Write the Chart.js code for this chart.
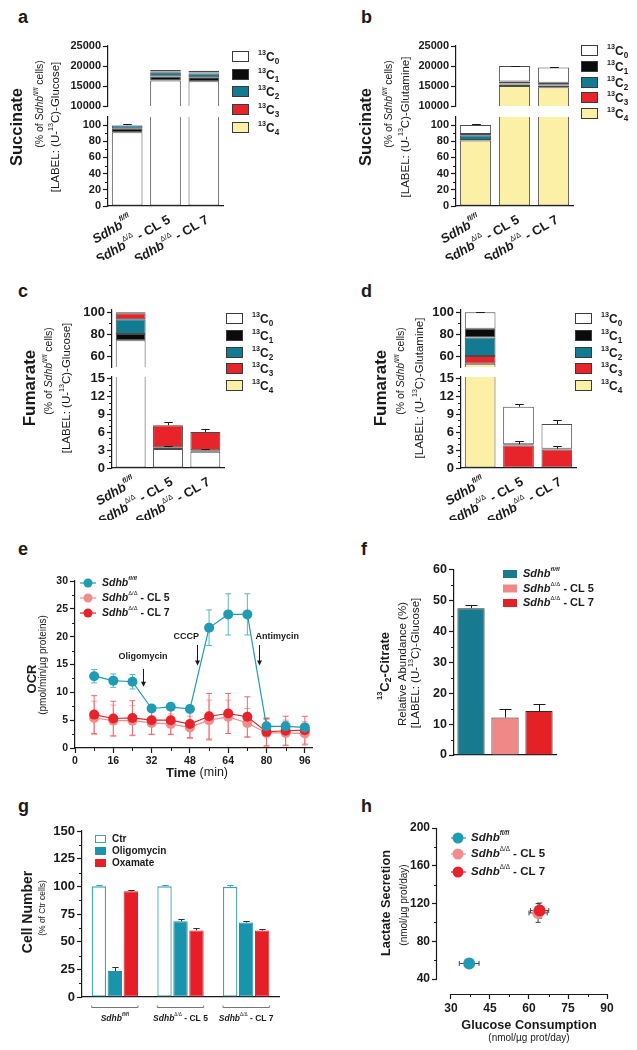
<!DOCTYPE html>
<html>
<head>
<meta charset="utf-8">
<title>Sdhb loss rewires metabolism</title>
<script src="https://cdn.jsdelivr.net/npm/chart.js@4.4.1/dist/chart.umd.min.js"></script>
<style>
  body { margin: 0; background: #fff; }
  #fig { position: relative; width: 637px; height: 1050px; overflow: hidden; font-family: "Liberation Sans", Arial, sans-serif; }
  #fig canvas { position: absolute; }
  .tag { position: absolute; font-weight: bold; font-size: 18px; line-height: 18px; color: #1a1a1a; }
</style>
</head>
<body>
<div id="fig">
  <div class="tag" style="left:18px;top:8px">a</div>
  <div class="tag" style="left:361px;top:8px">b</div>
  <div class="tag" style="left:18px;top:282px">c</div>
  <div class="tag" style="left:361px;top:282px">d</div>
  <div class="tag" style="left:18px;top:540px">e</div>
  <div class="tag" style="left:361px;top:540px">f</div>
  <div class="tag" style="left:18px;top:797px">g</div>
  <div class="tag" style="left:361px;top:797px">h</div>
  <canvas id="chartA" width="318" height="230" style="left:0;top:30px"></canvas>
  <canvas id="chartB" width="319" height="230" style="left:318px;top:30px"></canvas>
  <canvas id="chartC" width="318" height="220" style="left:0;top:300px"></canvas>
  <canvas id="chartD" width="319" height="220" style="left:318px;top:300px"></canvas>
  <canvas id="chartE" width="318" height="225" style="left:0;top:560px"></canvas>
  <canvas id="chartF" width="319" height="215" style="left:318px;top:560px"></canvas>
  <canvas id="chartG" width="318" height="235" style="left:0;top:815px"></canvas>
  <canvas id="chartH" width="319" height="235" style="left:318px;top:815px"></canvas>
</div>
<script>
// ---- data ----
// genotype = [gene, allele (superscript), clone]
const genotypes = [['Sdhb', 'fl/fl', ''], ['Sdhb', 'Δ/Δ', ' - CL 5'], ['Sdhb', 'Δ/Δ', ' - CL 7']];
const genotypeNames = genotypes.map(g => g.join(''));
const isotopologues = ['13C0', '13C1', '13C2', '13C3', '13C4'];

// a: succinate, (U-13C)-glucose (% of Sdhb fl/fl)
const succGlcC0 = [91, 16400, 16200];
const succGlcC1 = [4.5, 1000, 1000];
const succGlcC2 = [4, 900, 900];
const succGlcC3 = [0.3, 300, 300];
const succGlcC4 = [0.2, 400, 400];
const succGlcErr = [0.8, 0, 0];

// b: succinate, (U-13C)-glutamine
const succGlnC0 = [11, 3900, 3800];
const succGlnC1 = [1.5, 500, 500];
const succGlnC2 = [6, 200, 150];
const succGlnC3 = [0.5, 400, 450];
const succGlnC4 = [81, 15000, 14700];
const succGlnErr = [1.2, 60, 60];

// c: fumarate, (U-13C)-glucose
const fumGlcC0 = [74.5, 3.2, 2.75];
const fumGlcC1 = [5.5, 0.3, 0.25];
const fumGlcC2 = [13.5, 0, 0];
const fumGlcC3 = [5.5, 3.7, 3.05];
const fumGlcC4 = [1, 0, 0];
const fumGlcErrC1 = [0, 0.15, 0.15];
const fumGlcErrC3 = [0, 0.55, 0.45];

// d: fumarate, (U-13C)-glutamine
const fumGlnC0 = [15, 6.3, 4.15];
const fumGlnC1 = [8, 0.2, 0.15];
const fumGlnC2 = [17, 0, 0];
const fumGlnC3 = [7, 3.8, 3.1];
const fumGlnC4 = [53, 0, 0];
const fumGlnErrC1 = [0, 0.5, 0.4];
const fumGlnErrC0 = [0.4, 0.4, 0.75];

const succTopTicks = [10000, 15000, 20000, 25000];
const succBotTicks = [0, 20, 40, 60, 80, 100];
const fumTopTicks = [60, 80, 100];
const fumBotTicks = [0, 3, 6, 9, 12, 15];

// e: OCR (pmol/min/ug proteins)
const ocrTime = [8, 16, 24, 32, 40, 48, 56, 64, 72, 80, 88, 96];
const ocrWT = [12.9, 12.1, 11.9, 7.1, 7.4, 7.0, 21.6, 24.0, 24.0, 3.9, 3.9, 3.7];
const ocrWTErr = [1.2, 1.2, 1.3, 0.4, 0.4, 0.4, 3.2, 3.7, 3.7, 1.4, 0.8, 0.6];
const ocrCL5 = [5.4, 4.9, 4.9, 4.5, 4.3, 3.7, 5.0, 5.6, 4.5, 2.7, 2.7, 2.6];
const ocrCL5Err = [3.0, 2.8, 2.7, 2.0, 1.8, 2.0, 3.6, 3.0, 2.6, 2.4, 2.3, 2.1];
const ocrCL7 = [6.0, 5.3, 5.4, 5.0, 5.0, 4.3, 5.7, 6.2, 5.6, 2.9, 3.1, 3.2];
const ocrCL7Err = [3.4, 3.1, 3.1, 2.6, 2.6, 2.4, 4.1, 3.6, 3.6, 2.5, 2.6, 2.5];
const ocrTimeTicks = [0, 16, 32, 48, 64, 80, 96];
const ocrTicks = [0, 5, 10, 15, 20, 25, 30];
const ocrEvents = ['Oligomycin', 'CCCP', 'Antimycin'];

// f: 13C2-citrate relative abundance (%)
const citrateM2 = [47.5, 12.1, 14.2];
const citrateErr = [0.9, 2.8, 2.4];
const citrateTicks = [0, 10, 20, 30, 40, 50, 60];

// g: cell number (% of Ctr cells)
const treatments = ['Ctr', 'Oligomycin', 'Oxamate'];
const cellCtr = [100, 100, 99.5];
const cellCtrErr = [1, 1.2, 1.3];
const cellOligo = [23.5, 68.5, 67.3];
const cellOligoErr = [3.8, 2.2, 1.6];
const cellOxa = [95.5, 60.2, 60.0];
const cellOxaErr = [1.5, 2.2, 1.6];
const cellTicks = [0, 25, 50, 75, 100, 125, 150];

// h: glucose consumption vs lactate secretion (nmol/ug prot/day)
const glucoseUse = [37, 63.5, 64.1];
const glucoseUseErr = [3.8, 3.5, 3.5];
const lactateOut = [56.5, 110, 112.5];
const lactateOutErr = [1.5, 10, 8];
const glucoseTicks = [30, 45, 60, 75, 90];
const lactateTicks = [40, 80, 120, 160, 200];

// ---- style ----
const INK = '#1a1a1a';
const FAM = '"Liberation Sans", Arial, Helvetica, sans-serif';
const isoColors = ['#ffffff', '#0b0b0b', '#137b91', '#e8242b', '#fbf0a6'];
const TEAL = '#1f9bb3', PINK = '#f08c8c', RED = '#e6232b';
Chart.defaults.font.family = FAM;
Chart.defaults.color = INK;

const font = (size, style) => (style ? style + ' ' : '') + size + 'px ' + FAM;
const tickSet = list => s => { s.ticks = list.map(v => ({ value: v })); };
const fixW = w => s => { s.width = w; };
const fixH = h => s => { s.height = h; };
const plain = v => String(v);

function drawRich(ctx, parts, x, y, align) {
  let w = 0;
  parts.forEach(p => { ctx.font = p.f; w += ctx.measureText(p.t).width; });
  let cx = align === 'right' ? x - w : align === 'center' ? x - w / 2 : x;
  parts.forEach(p => {
    ctx.font = p.f;
    ctx.fillText(p.t, cx, y + (p.dy || 0));
    cx += ctx.measureText(p.t).width;
  });
}
function vText(ctx, parts, x, y) {
  ctx.save();
  ctx.translate(x, y);
  ctx.rotate(-Math.PI / 2);
  drawRich(ctx, parts, 0, 0, 'center');
  ctx.restore();
}
function geno(g, size) {
  return [
    { t: g[0], f: font(size, 'italic bold') },
    { t: g[1], f: font(Math.round(size * 0.55 * 10) / 10, g[1] === 'fl/fl' ? 'italic bold' : ''), dy: -size * 0.4 },
    { t: g[2], f: font(size, 'bold') }
  ];
}
function iso(label, size) {
  return [
    { t: label.slice(0, 2), f: font(size * 0.6, 'bold'), dy: -size * 0.38 },
    { t: 'C', f: font(size, 'bold') },
    { t: label.slice(3), f: font(size * 0.68, 'bold'), dy: size * 0.3 }
  ];
}
function minorTicks(chart, id, sub, len) {
  const s = chart.scales[id], ctx = chart.ctx, t = s.ticks.map(k => k.value);
  ctx.save();
  ctx.strokeStyle = INK;
  ctx.lineWidth = 1;
  ctx.beginPath();
  for (let i = 0; i < t.length - 1; i++) {
    for (let j = 1; j < sub; j++) {
      const v = t[i] + (t[i + 1] - t[i]) * j / sub;
      if (v < s.min || v > s.max) continue;
      const px = Math.round(s.getPixelForValue(v)) + 0.5;
      if (s.isHorizontal()) { ctx.moveTo(px, s.top); ctx.lineTo(px, s.top + (len || 3)); }
      else { ctx.moveTo(s.right, px); ctx.lineTo(s.right - (len || 3), px); }
    }
  }
  ctx.stroke();
  ctx.restore();
}

// error bars, read through each dataset's own scales
function errorBars(o) {
  const hook = o.under ? 'beforeDatasetsDraw' : 'afterDatasetsDraw';
  return {
    id: 'errorBars',
    [hook](chart) {
      const ctx = chart.ctx, area = chart.chartArea;
      chart.data.datasets.forEach((ds, i) => {
        if (!ds.err && !ds.xErr) return;
        const meta = chart.getDatasetMeta(i);
        const xs = chart.scales[meta.xAxisID], ys = chart.scales[meta.yAxisID];
        ctx.save();
        ctx.beginPath();
        ctx.rect(area.left - 30, ys.top - 1, area.width + 60, ys.height + 2);
        ctx.clip();
        ctx.strokeStyle = ds.errColor || INK;
        ctx.lineWidth = o.width || 1;
        ctx.beginPath();
        meta.data.forEach((el, j) => {
          const ey = ds.err ? ds.err[j] : 0;
          const ex = ds.xErr ? ds.xErr[j] : 0;
          if (o.mode === 'bar') {
            if (!ey) return;
            const x = Math.round(el.x) + 0.5;
            const top = Math.round(ys.getPixelForValue(ys.getValueForPixel(el.y) + ey)) + 0.5;
            const c = el.width * o.cap;
            ctx.moveTo(x, el.y); ctx.lineTo(x, top);
            ctx.moveTo(x - c, top); ctx.lineTo(x + c, top);
          } else {
            const v = ys.getValueForPixel(el.y), u = xs.getValueForPixel(el.x);
            if (ey) {
              const a = ys.getPixelForValue(v + ey), b = ys.getPixelForValue(v - ey);
              ctx.moveTo(el.x, a); ctx.lineTo(el.x, b);
              ctx.moveTo(el.x - o.cap, a); ctx.lineTo(el.x + o.cap, a);
              ctx.moveTo(el.x - o.cap, b); ctx.lineTo(el.x + o.cap, b);
            }
            if (ex) {
              const l = xs.getPixelForValue(u - ex), r = xs.getPixelForValue(u + ex);
              ctx.moveTo(l, el.y); ctx.lineTo(r, el.y);
              ctx.moveTo(l, el.y - o.cap); ctx.lineTo(l, el.y + o.cap);
              ctx.moveTo(r, el.y - o.cap); ctx.lineTo(r, el.y + o.cap);
            }
          }
        });
        ctx.stroke();
        ctx.restore();
      });
    }
  };
}
function overlay(fn) {
  return {
    id: 'overlay',
    afterDraw(chart) {
      const ctx = chart.ctx;
      ctx.save();
      ctx.fillStyle = INK;
      ctx.textBaseline = 'middle';
      fn(chart, ctx);
      ctx.restore();
    }
  };
}
function yAxis(size, extra) {
  return Object.assign({
    position: 'left',
    border: { color: INK, width: 1.2 },
    grid: { drawOnChartArea: false, tickLength: 5, color: INK, tickWidth: 1.2 },
    ticks: { font: { family: FAM, size: size, weight: 'bold' }, color: INK, padding: 2, autoSkip: false, callback: plain }
  }, extra);
}
const base = padding => ({
  responsive: false, animation: false, events: [],
  layout: { padding },
  plugins: { legend: { display: false }, tooltip: { enabled: false } }
});

// ---- broken-axis stacked isotopologue bars (a-d) ----
function brokenBars(id, p) {
  const datasets = [];
  p.series.forEach(s => {
    ['yTop', 'yBot'].forEach(ax => {
      datasets.push({
        label: isotopologues[s.k], data: s.data, err: s.err, yAxisID: ax, stack: 'iso',
        backgroundColor: isoColors[s.k], borderColor: '#4a4a4a',
        borderWidth: c => (c.raw ? 1 : 0), borderSkipped: false,
        barPercentage: 0.8, categoryPercentage: 1, clip: 0
      });
    });
  });
  const opts = base(p.padding);
  opts.scales = {
    x: { stacked: true, grid: { display: false }, ticks: { display: false },
         border: { color: INK, width: 1.2 }, afterFit: fixH(0) },
    yTop: yAxis(p.tickSize, { stacked: true, stack: 'v', stackWeight: p.weights[0], weight: 3,
         min: p.top.min, max: p.top.max, afterBuildTicks: tickSet(p.top.ticks), afterFit: fixW(p.axisLeft) }),
    yGap: { display: false, position: 'left', stack: 'v', stackWeight: p.weights[1], weight: 2 },
    yBot: yAxis(p.tickSize, { stacked: true, stack: 'v', stackWeight: p.weights[2], weight: 1,
         min: p.bot.min, max: p.bot.max, afterBuildTicks: tickSet(p.bot.ticks), afterFit: fixW(p.axisLeft) })
  };
  return new Chart(document.getElementById(id), {
    type: 'bar',
    data: { labels: genotypeNames, datasets },
    options: opts,
    plugins: [errorBars({ mode: 'bar', cap: 0.14 }), overlay((chart, ctx) => {
      if (p.top.minor) minorTicks(chart, 'yTop', p.top.minor);
      if (p.bot.minor) minorTicks(chart, 'yBot', p.bot.minor);
      const L = chart.chartArea.left;
      p.titles.forEach(t => vText(ctx, t.parts, L + t.dx, t.y));
      const xs = chart.scales.x;
      genotypes.forEach((g, i) => {
        ctx.save();
        ctx.translate(xs.getPixelForTick(i) + 4, xs.top + 13);
        ctx.rotate(-Math.PI / 6);
        drawRich(ctx, geno(g, p.labelSize), 0, 0, 'right');
        ctx.restore();
      });
      const lg = p.legend;
      isotopologues.forEach((lab, k) => {
        const y = Math.round(lg.y + k * lg.dy);
        ctx.fillStyle = isoColors[k];
        ctx.fillRect(lg.x, y - 5, 17, 11);
        ctx.strokeStyle = '#3a3a3a';
        ctx.lineWidth = 1;
        ctx.strokeRect(lg.x + 0.5, y - 4.5, 16, 10);
        ctx.fillStyle = INK;
        drawRich(ctx, iso(lab, 12), lg.tx, y + 2, 'left');
      });
    })]
  });
}

const title2 = size => [
  { t: '(% of ', f: font(size) }, { t: 'Sdhb', f: font(size, 'italic') },
  { t: 'fl/fl', f: font(size * 0.62, 'italic'), dy: -size * 0.4 }, { t: ' cells)', f: font(size) }
];
const title3 = (tracer, size) => [
  { t: '[LABEL: (U-', f: font(size) }, { t: '13', f: font(size * 0.62), dy: -size * 0.4 },
  { t: 'C)-' + tracer + ']', f: font(size) }
];

brokenBars('chartA', {
  series: [0, 1, 2, 3, 4].map(k => ({ k, data: [succGlcC0, succGlcC1, succGlcC2, succGlcC3, succGlcC4][k], err: k === 4 ? succGlcErr : null })),
  top: { min: 10000, max: 25000, ticks: succTopTicks },
  bot: { min: 0, max: 110, ticks: succBotTicks, minor: 2 },
  weights: [60, 11, 89], axisLeft: 108, tickSize: 11, labelSize: 13,
  padding: { left: 0, top: 16, right: 95, bottom: 54 },
  legend: { x: 232, y: 26, dy: 17.7, tx: 258 },
  titles: [
    { dx: -91, y: 97, parts: [{ t: 'Succinate', f: font(16.5, 'bold') }] },
    { dx: -68, y: 74, parts: title2(10.5) },
    { dx: -52, y: 97, parts: title3('Glucose', 11.5) }
  ]
});

brokenBars('chartB', {
  series: [4, 3, 2, 1, 0].map(k => ({ k, data: [succGlnC0, succGlnC1, succGlnC2, succGlnC3, succGlnC4][k], err: k === 0 ? succGlnErr : null })),
  top: { min: 10000, max: 25000, ticks: succTopTicks },
  bot: { min: 0, max: 110, ticks: succBotTicks, minor: 2 },
  weights: [60, 11, 89], axisLeft: 138, tickSize: 11, labelSize: 13,
  padding: { left: 0, top: 16, right: 64, bottom: 54 },
  legend: { x: 263, y: 20, dy: 15.75, tx: 289 },
  titles: [
    { dx: -90, y: 97, parts: [{ t: 'Succinate', f: font(16.5, 'bold') }] },
    { dx: -67, y: 74, parts: title2(10.5) },
    { dx: -50, y: 97, parts: title3('Glutamine', 11.5) }
  ]
});

brokenBars('chartC', {
  series: [0, 1, 2, 3, 4].map(k => ({ k, data: [fumGlcC0, fumGlcC1, fumGlcC2, fumGlcC3, fumGlcC4][k], err: k === 1 ? fumGlcErrC1 : k === 3 ? fumGlcErrC3 : null })),
  top: { min: 50, max: 102, ticks: fumTopTicks, minor: 2 },
  bot: { min: 0, max: 15.3, ticks: fumBotTicks, minor: 3 },
  weights: [57, 10, 91], axisLeft: 112, tickSize: 13, labelSize: 13,
  padding: { left: 0, top: 10, right: 94, bottom: 52 },
  legend: { x: 226, y: 18, dy: 16.75, tx: 252 },
  titles: [
    { dx: -82, y: 88, parts: [{ t: 'Fumarate', f: font(17, 'bold') }] },
    { dx: -63, y: 71, parts: title2(10.5) },
    { dx: -45, y: 88, parts: title3('Glucose', 11.5) }
  ]
});

brokenBars('chartD', {
  series: [4, 3, 2, 1, 0].map(k => ({ k, data: [fumGlnC0, fumGlnC1, fumGlnC2, fumGlnC3, fumGlnC4][k], err: k === 1 ? fumGlnErrC1 : k === 0 ? fumGlnErrC0 : null })),
  top: { min: 50, max: 102, ticks: fumTopTicks, minor: 2 },
  bot: { min: 0, max: 15.3, ticks: fumBotTicks, minor: 3 },
  weights: [57, 10, 91], axisLeft: 143, tickSize: 13, labelSize: 13,
  padding: { left: 0, top: 10, right: 61, bottom: 52 },
  legend: { x: 257, y: 18, dy: 16.75, tx: 283 },
  titles: [
    { dx: -80, y: 88, parts: [{ t: 'Fumarate', f: font(17, 'bold') }] },
    { dx: -60, y: 71, parts: title2(10.5) },
    { dx: -41, y: 88, parts: title3('Glutamine', 11.5) }
  ]
});

// ---- e: oxygen consumption ----
const pts = (xs, ys) => xs.map((x, i) => ({ x, y: ys[i] }));
const ocrSeries = [
  { data: ocrWT, err: ocrWTErr, color: TEAL, errColor: '#56b6c8', order: 0 },
  { data: ocrCL5, err: ocrCL5Err, color: PINK, errColor: '#f3a3a3', order: 2 },
  { data: ocrCL7, err: ocrCL7Err, color: RED, errColor: '#ee6a6f', order: 1 }
];
const optsE = base({ left: 0, top: 21, right: 6, bottom: 0 });
optsE.scales = {
  x: { type: 'linear', min: 0, max: 99, afterBuildTicks: tickSet(ocrTimeTicks), afterFit: fixH(37),
       border: { color: INK, width: 1.2 }, grid: { drawOnChartArea: false, tickLength: 5, color: INK, tickWidth: 1.2 },
       ticks: { font: { family: FAM, size: 10.5, weight: 'bold' }, color: INK, padding: 2, maxRotation: 0, autoSkip: false, callback: plain } },
  y: yAxis(10.5, { min: 0, max: 30, afterBuildTicks: tickSet(ocrTicks), afterFit: fixW(75) })
};
new Chart(document.getElementById('chartE'), {
  type: 'line',
  data: {
    datasets: ocrSeries.map((s, i) => ({
      label: genotypeNames[i], data: pts(ocrTime, s.data), err: s.err, errColor: s.errColor, order: s.order,
      borderColor: s.color, backgroundColor: s.color, borderWidth: 1.2,
      pointRadius: 5, pointBorderWidth: 0, tension: 0
    }))
  },
  options: optsE,
  plugins: [errorBars({ mode: 'point', cap: 3, under: true }), overlay((chart, ctx) => {
    minorTicks(chart, 'x', 2);
    minorTicks(chart, 'y', 2);
    const xs = chart.scales.x, ys = chart.scales.y;
    // treatment injections
    const marks = [
      { tx: 28.4, ty: 16.4, ax: 28.5, y0: 14.2, y1: 11.0 },
      { tx: 46.5, ty: 20.1, ax: 51, y0: 18.5, y1: 14.8 },
      { tx: 84.5, ty: 20.1, ax: 77, y0: 18.5, y1: 14.8 }
    ];
    ocrEvents.forEach((ev, i) => {
      const m = marks[i];
      ctx.font = font(9, 'bold');
      ctx.textAlign = 'center';
      ctx.fillText(ev, xs.getPixelForValue(m.tx), ys.getPixelForValue(m.ty));
      const x = Math.round(xs.getPixelForValue(m.ax)) + 0.5;
      const a = ys.getPixelForValue(m.y0), b = ys.getPixelForValue(m.y1);
      ctx.strokeStyle = INK; ctx.lineWidth = 1;
      ctx.beginPath(); ctx.moveTo(x, a); ctx.lineTo(x, b - 4); ctx.stroke();
      ctx.beginPath(); ctx.moveTo(x - 2.5, b - 5); ctx.lineTo(x + 2.5, b - 5); ctx.lineTo(x, b); ctx.closePath(); ctx.fill();
    });
    ctx.textAlign = 'left';
    chart.data.datasets.forEach((ds, i) => {
      const y = 23 + i * 15;
      ctx.strokeStyle = ds.borderColor; ctx.lineWidth = 1.2;
      ctx.beginPath(); ctx.moveTo(80, y); ctx.lineTo(96, y); ctx.stroke();
      ctx.fillStyle = ds.backgroundColor;
      ctx.beginPath(); ctx.arc(88, y, 4.5, 0, Math.PI * 2); ctx.fill();
      ctx.fillStyle = INK;
      drawRich(ctx, geno(genotypes[i], 10.5), 102, y, 'left');
    });
    vText(ctx, [{ t: 'OCR', f: font(13, 'bold') }], 32, 119);
    vText(ctx, [{ t: '(pmol/min/µg proteins)', f: font(10) }], 43, 105);
    drawRich(ctx, [{ t: 'Time', f: font(13, 'bold') }, { t: ' (min)', f: font(12.5) }], 197, 213, 'center');
  })]
});

// ---- f: 13C2-citrate ----
const optsF = base({ left: 0, top: 8, right: 81, bottom: 20 });
optsF.scales = {
  x: { grid: { display: false }, ticks: { display: false }, border: { color: INK, width: 1.2 }, afterFit: fixH(0) },
  y: yAxis(12.5, { min: 0, max: 60, afterBuildTicks: tickSet(citrateTicks), afterFit: fixW(136) })
};
new Chart(document.getElementById('chartF'), {
  type: 'bar',
  data: {
    labels: genotypeNames,
    datasets: [{ data: citrateM2, err: citrateErr, backgroundColor: ['#177a8e', '#f08888', '#e52128'],
      borderColor: '#2a2a2a', borderWidth: 1, barPercentage: 0.8, categoryPercentage: 1 }]
  },
  options: optsF,
  plugins: [errorBars({ mode: 'bar', cap: 0.22 }), overlay((chart, ctx) => {
    minorTicks(chart, 'y', 2);
    const ds = chart.data.datasets[0];
    genotypes.forEach((g, i) => {
      const y = 14 + i * 14.5;
      ctx.fillStyle = ds.backgroundColor[i];
      ctx.fillRect(185, y - 4, 14, 8);
      ctx.fillStyle = INK;
      drawRich(ctx, geno(g, 11), 205, y, 'left');
    });
    vText(ctx, [{ t: '13', f: font(7.5, 'bold'), dy: -5 }, { t: 'C', f: font(13, 'bold') },
      { t: '2', f: font(8.5, 'bold'), dy: 4 }, { t: '-Citrate', f: font(13, 'bold') }], 67, 106);
    vText(ctx, [{ t: 'Relative Abundance (%)', f: font(11.5) }], 85, 104);
    vText(ctx, title3('Glucose', 11.5), 98, 103);
  })]
});

// ---- g: cell number ----
const optsG = base({ left: 0, top: 16, right: 39, bottom: 53 });
optsG.scales = {
  x: { grid: { display: false }, ticks: { display: false }, border: { color: INK, width: 1.2 }, afterFit: fixH(0) },
  y: yAxis(13, { min: 0, max: 150, afterBuildTicks: tickSet(cellTicks), afterFit: fixW(82) })
};
new Chart(document.getElementById('chartG'), {
  type: 'bar',
  data: {
    labels: genotypeNames,
    datasets: [
      { label: treatments[0], data: cellCtr, err: cellCtrErr, errColor: '#3aa4b8',
        backgroundColor: '#ffffff', borderColor: '#3aa4b8', borderWidth: 1.3 },
      { label: treatments[1], data: cellOligo, err: cellOligoErr, errColor: '#333',
        backgroundColor: '#1a94ad', borderColor: '#1a94ad', borderWidth: 1 },
      { label: treatments[2], data: cellOxa, err: cellOxaErr, errColor: '#333',
        backgroundColor: '#e61e27', borderColor: '#e61e27', borderWidth: 1 }
    ].map(d => Object.assign(d, { barPercentage: 0.9, categoryPercentage: 0.73, borderSkipped: false }))
  },
  options: optsG,
  plugins: [errorBars({ mode: 'bar', cap: 0.22 }), overlay((chart, ctx) => {
    minorTicks(chart, 'y', 2);
    chart.data.datasets.forEach((ds, i) => {
      const y = 24 + i * 12;
      ctx.fillStyle = ds.backgroundColor;
      ctx.fillRect(95, y - 4, 11, 8);
      ctx.strokeStyle = ds.borderColor; ctx.lineWidth = 1;
      ctx.strokeRect(95.5, y - 3.5, 10, 7);
      ctx.fillStyle = INK;
      ctx.font = font(10, 'bold');
      ctx.fillText(ds.label, 112, y);
    });
    const first = chart.getDatasetMeta(0).data, last = chart.getDatasetMeta(2).data;
    const by = chart.chartArea.bottom + 10.5;
    ctx.strokeStyle = '#777'; ctx.lineWidth = 1;
    genotypes.forEach((g, i) => {
      const l = first[i].x - first[i].width / 2, r = last[i].x + last[i].width / 2;
      ctx.beginPath();
      ctx.moveTo(l, by - 2); ctx.lineTo(l, by); ctx.lineTo(r, by); ctx.lineTo(r, by - 2);
      ctx.stroke();
      drawRich(ctx, geno(g, 8.5), (l + r) / 2, by + 11, 'center');
    });
    vText(ctx, [{ t: 'Cell Number', f: font(14, 'bold') }], 28, 97);
    vText(ctx, [{ t: '(% of Ctr cells)', f: font(8.5) }], 43, 93);
  })]
});

// ---- h: glucose vs lactate ----
const optsH = base({ left: 0, top: 13, right: 27, bottom: 0 });
const detached = { display: false };
optsH.scales = {
  x: { type: 'linear', min: 24.62, max: 91.15, afterBuildTicks: tickSet(glucoseTicks), afterFit: fixH(56),
       border: detached, grid: { drawOnChartArea: false, tickLength: 5, color: INK, tickWidth: 1.2 },
       ticks: { font: { family: FAM, size: 12, weight: 'bold' }, color: INK, padding: 2, maxRotation: 0, autoSkip: false, callback: plain } },
  y: yAxis(12, { min: 24.11, max: 200, afterBuildTicks: tickSet(lactateTicks), afterFit: fixW(119), border: detached })
};
const hColors = [TEAL, PINK, RED];
new Chart(document.getElementById('chartH'), {
  type: 'scatter',
  data: {
    datasets: genotypeNames.map((name, i) => ({
      label: name, data: [{ x: glucoseUse[i], y: lactateOut[i] }],
      xErr: [glucoseUseErr[i]], err: [lactateOutErr[i]], errColor: '#444', order: 2 - i,
      backgroundColor: hColors[i], borderColor: hColors[i], pointRadius: 6, pointBorderWidth: 0
    }))
  },
  options: optsH,
  plugins: [errorBars({ mode: 'point', cap: 2.5, under: true }), overlay((chart, ctx) => {
    const xs = chart.scales.x, ys = chart.scales.y;
    ctx.strokeStyle = INK; ctx.lineWidth = 1.2;
    ctx.beginPath();
    const ax = Math.round(ys.right) - 0.5, ay = Math.round(xs.top) + 0.5;
    ctx.moveTo(ax, ys.getPixelForValue(lactateTicks[0])); ctx.lineTo(ax, ys.getPixelForValue(lactateTicks[lactateTicks.length - 1]));
    ctx.moveTo(xs.getPixelForValue(glucoseTicks[0]), ay); ctx.lineTo(xs.getPixelForValue(glucoseTicks[glucoseTicks.length - 1]), ay);
    ctx.stroke();
    minorTicks(chart, 'x', 2);
    minorTicks(chart, 'y', 2);
    chart.data.datasets.forEach((ds, i) => {
      const y = [23, 39, 57][i];
      ctx.strokeStyle = ds.borderColor; ctx.lineWidth = 1.2;
      ctx.beginPath(); ctx.moveTo(133, y); ctx.lineTo(148, y); ctx.stroke();
      ctx.fillStyle = ds.backgroundColor;
      ctx.beginPath(); ctx.arc(140, y, 5.5, 0, Math.PI * 2); ctx.fill();
      ctx.fillStyle = INK;
      drawRich(ctx, geno(genotypes[i], 11.5), 153, y, 'left');
    });
    vText(ctx, [{ t: 'Lactate Secretion', f: font(12.7, 'bold') }], 68, 88);
    vText(ctx, [{ t: '(nmol/µg prot/day)', f: font(10) }], 86, 90);
    drawRich(ctx, [{ t: 'Glucose Consumption', f: font(12.7, 'bold') }], 211, 210, 'center');
    drawRich(ctx, [{ t: '(nmol/µg prot/day)', f: font(10) }], 211, 223, 'center');
  })]
});
</script>
</body>
</html>
